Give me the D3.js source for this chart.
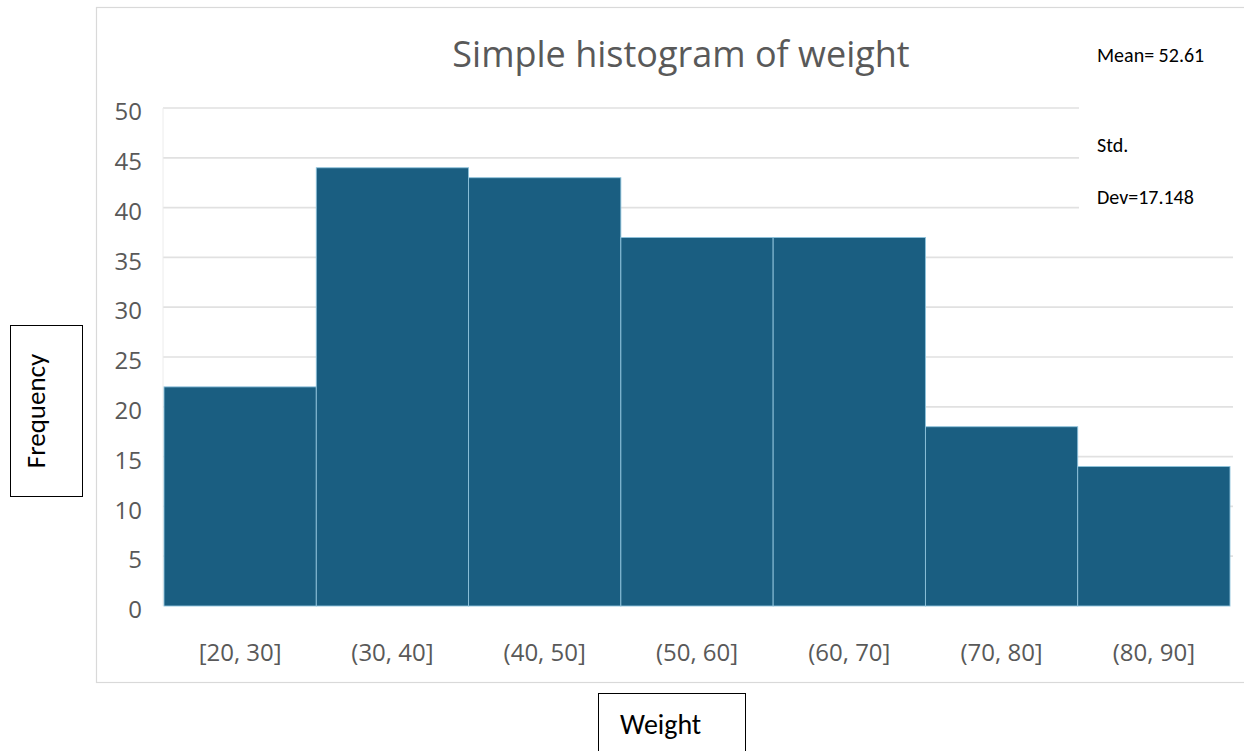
<!DOCTYPE html>
<html>
<head>
<meta charset="utf-8">
<script src="https://cdn.jsdelivr.net/npm/d3@7"></script>
<style>
  html, body { margin: 0; padding: 0; background: #fff; }
  svg { display: block; }
</style>
</head>
<body>
<svg id="chart" width="1244" height="751"></svg>
<script>
// Weight bins and their counts
const bins = ["[20, 30]", "(30, 40]", "(40, 50]", "(50, 60]", "(60, 70]", "(70, 80]", "(80, 90]"];
const counts = [22, 44, 43, 37, 37, 18, 14];
const yTicks = [0, 5, 10, 15, 20, 25, 30, 35, 40, 45, 50];
const statLines = ["Mean= 52.61", "Std.", "Dev=17.148"];
const statBaselines = [62, 152, 204];

const svg = d3.select("#chart");

// chart frame
svg.append("rect")
  .attr("x", 96.5).attr("y", 7.5)
  .attr("width", 1160).attr("height", 675)
  .attr("fill", "#fff").attr("stroke", "#d9d9d9").attr("stroke-width", 1.2);

const plot = { left: 164, right: 1230, top: 108, bottom: 606 };

const x = d3.scaleBand().domain(bins).range([plot.left, plot.right]).paddingInner(0).paddingOuter(0);
const y = d3.scaleLinear().domain([0, 50]).range([plot.bottom, plot.top]);

// horizontal grid
svg.append("g")
  .selectAll("line")
  .data(yTicks.filter(d => d > 0))
  .join("line")
  .attr("x1", plot.left - 1).attr("x2", 1233)
  .attr("y1", d => y(d)).attr("y2", d => y(d))
  .attr("stroke", "#e1e1e1").attr("stroke-width", 1.7);

// left vertical guide
svg.append("line")
  .attr("x1", plot.left - 1).attr("x2", plot.left - 1)
  .attr("y1", plot.top).attr("y2", plot.bottom)
  .attr("stroke", "#ececec").attr("stroke-width", 1);

// bars
svg.append("g")
  .selectAll("rect")
  .data(bins.map((b, i) => ({ b, v: counts[i] })))
  .join("rect")
  .attr("x", d => x(d.b))
  .attr("y", d => y(d.v))
  .attr("width", x.bandwidth())
  .attr("height", d => y(0) - y(d.v))
  .attr("fill", "#1a5e81")
  .attr("stroke", "#8fc3dc")
  .attr("stroke-width", 0.9);

// y axis labels
const yAxis = d3.axisLeft(y).tickValues(yTicks).tickSize(0).tickPadding(0);
const ya = svg.append("g").attr("transform", `translate(${plot.left - 22},4)`).call(yAxis);
ya.select(".domain").remove();
ya.selectAll("text")
  .attr("font-family", "'Open Sans', sans-serif")
  .attr("font-size", 24).attr("fill", "#595959");

// x axis labels
const xAxis = d3.axisBottom(x).tickSize(0).tickPadding(0);
const xa = svg.append("g").attr("transform", `translate(0,${plot.bottom + 38})`).call(xAxis);
xa.select(".domain").remove();
xa.selectAll("text")
  .attr("font-family", "'Open Sans', sans-serif")
  .attr("font-size", 24).attr("fill", "#595959");

// title
svg.append("text")
  .attr("x", 681).attr("y", 67)
  .attr("text-anchor", "middle")
  .attr("font-family", "'Open Sans', sans-serif")
  .attr("font-size", 36).attr("fill", "#595959")
  .text("Simple histogram of weight");

// summary statistics box
svg.append("rect")
  .attr("x", 1079).attr("y", 24).attr("width", 165).attr("height", 210)
  .attr("fill", "#fff");
svg.append("g")
  .selectAll("text")
  .data(statLines)
  .join("text")
  .attr("x", 1097)
  .attr("y", (d, i) => statBaselines[i])
  .attr("font-family", "Carlito, Calibri, 'Open Sans', sans-serif")
  .attr("font-size", 20).attr("fill", "#000")
  .text(d => d);

// y axis title box
svg.append("rect")
  .attr("x", 10.5).attr("y", 325.5).attr("width", 72).attr("height", 171)
  .attr("fill", "#fff").attr("stroke", "#000").attr("stroke-width", 1);
svg.append("text")
  .attr("transform", "translate(45,411) rotate(-90)")
  .attr("text-anchor", "middle")
  .attr("font-family", "Carlito, Calibri, 'Open Sans', sans-serif")
  .attr("font-size", 27).attr("fill", "#000")
  .text("Frequency");

// x axis title box
svg.append("rect")
  .attr("x", 598.5).attr("y", 693.5).attr("width", 147).attr("height", 70)
  .attr("fill", "#fff").attr("stroke", "#000").attr("stroke-width", 1);
svg.append("text")
  .attr("x", 620).attr("y", 734)
  .attr("font-family", "Carlito, Calibri, 'Open Sans', sans-serif")
  .attr("font-size", 28).attr("fill", "#000")
  .text("Weight");
</script>
</body>
</html>
